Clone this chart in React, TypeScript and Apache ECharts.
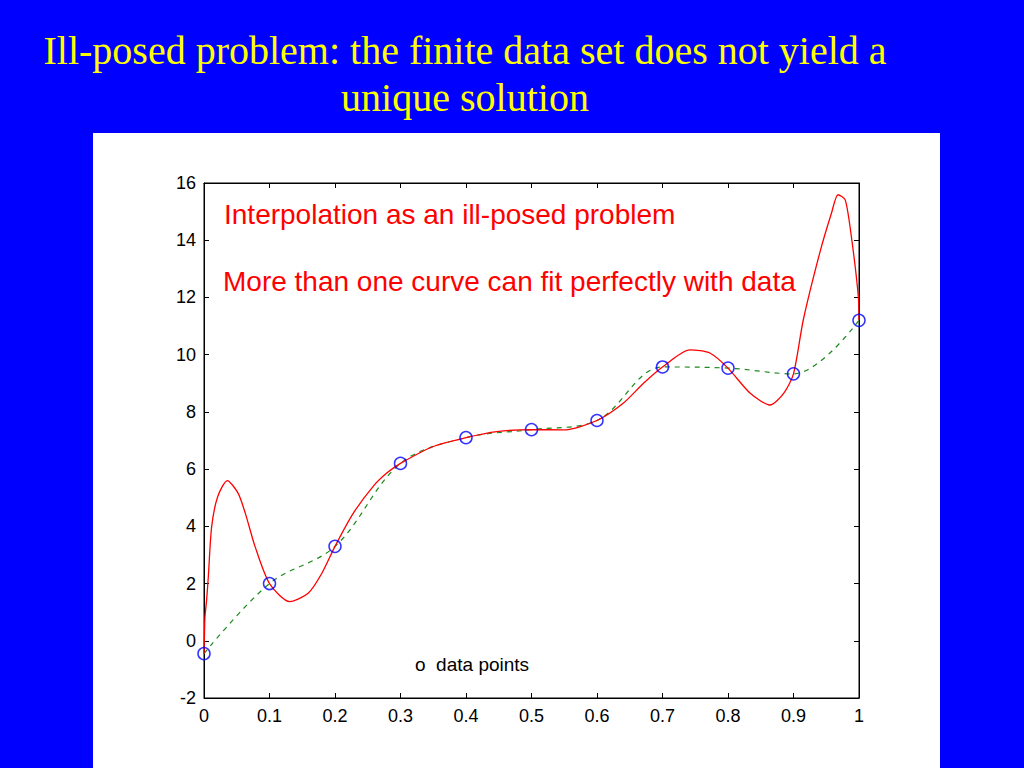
import React, { useEffect, useRef } from "react";
import * as echarts from "echarts";

const titleLines = [
  "Ill-posed problem: the finite data set does not yield a",
  "unique solution",
];
const annotation1 = "Interpolation as an ill-posed problem";
const annotation2 = "More than one curve can fit perfectly with data";
const legendText = "o  data points";

const dataX = [0, 0.1, 0.2, 0.3, 0.4, 0.5, 0.6, 0.7, 0.8, 0.9, 1.0];
const dataY = [-0.45, 2.0, 3.3, 6.2, 7.1, 7.38, 7.7, 9.57, 9.53, 9.33, 11.2];

const redX = [
  0, 0.0008, 0.0015, 0.004, 0.0066, 0.0117, 0.021, 0.0356, 0.052, 0.063, 0.078, 0.1,
  0.131, 0.159, 0.18, 0.2, 0.228, 0.258, 0.279, 0.3, 0.35, 0.4, 0.447, 0.5,
  0.549, 0.6, 0.64, 0.671, 0.7, 0.742, 0.773, 0.8, 0.834, 0.864, 0.885, 0.9,
  0.915, 0.94, 0.958, 0.968, 0.979, 0.989, 0.999, 1.0,
];
const redY = [
  -0.45, 0.3, 0.84, 1.43, 2.24, 3.99, 5.04, 5.6, 5.16, 4.46, 3.29, 2.0,
  1.37, 1.66, 2.36, 3.3, 4.46, 5.39, 5.86, 6.2, 6.79, 7.1, 7.31, 7.38,
  7.37, 7.7, 8.3, 9.0, 9.57, 10.17, 10.05, 9.53, 8.65, 8.24, 8.65, 9.33,
  11.22, 13.55, 14.95, 15.59, 15.41, 14.01, 12.03, 11.2,
];

const xTicks = { min: 0, max: 1, interval: 0.1 };
const yTicks = { min: -2, max: 16, interval: 2 };

export default function App() {
  const ref = useRef<HTMLDivElement>(null);
  useEffect(() => {
    if (!ref.current) return;
    const chart = echarts.init(ref.current, null, { renderer: "svg" });
    const axisFont = {
      color: "#000",
      fontSize: 18,
      fontFamily: "Liberation Sans, Arial, sans-serif",
    };
    const tick = { show: true, inside: true, length: 5, lineStyle: { color: "#000" } };
    const line = { show: true, onZero: false, lineStyle: { color: "#000" } };
    chart.setOption({
      animation: false,
      backgroundColor: "transparent",
      grid: {
        left: 204,
        top: 183,
        width: 655,
        height: 515,
        show: true,
        borderColor: "#000",
        borderWidth: 1,
        backgroundColor: "#fff",
      },
      xAxis: [
        {
          type: "value",
          ...xTicks,
          axisLine: line,
          axisTick: tick,
          splitLine: { show: false },
          axisLabel: {
            ...axisFont,
            margin: 9,
            formatter: (v: number) => String(Math.round(v * 10) / 10),
          },
        },
        {
          type: "value",
          position: "top",
          ...xTicks,
          axisLine: line,
          axisTick: tick,
          splitLine: { show: false },
          axisLabel: { show: false },
        },
      ],
      yAxis: [
        {
          type: "value",
          ...yTicks,
          axisLine: line,
          axisTick: tick,
          splitLine: { show: false },
          axisLabel: { ...axisFont, margin: 8 },
        },
        {
          type: "value",
          position: "right",
          ...yTicks,
          axisLine: line,
          axisTick: tick,
          splitLine: { show: false },
          axisLabel: { show: false },
        },
      ],
      series: [
        {
          type: "line",
          data: dataX.map((x, i) => [x, dataY[i]]),
          smooth: 0.35,
          showSymbol: false,
          lineStyle: { color: "#1a8a1a", width: 1.2, type: [5, 5] },
          z: 2,
        },
        {
          type: "line",
          data: redX.map((x, i) => [x, redY[i]]),
          smooth: 0.25,
          showSymbol: false,
          lineStyle: { color: "#ff0000", width: 1.3 },
          z: 3,
        },
        {
          type: "scatter",
          data: dataX.map((x, i) => [x, dataY[i]]),
          symbol: "circle",
          symbolSize: 12,
          itemStyle: { color: "transparent", borderColor: "#0000ff", borderWidth: 1.5 },
          z: 4,
        },
      ],
      graphic: [
        {
          type: "text",
          x: 465,
          y: 50,
          style: {
            text: titleLines[0],
            fill: "#ffff00",
            font: "40px 'Liberation Serif', 'Times New Roman', serif",
            textAlign: "center",
            textVerticalAlign: "middle",
          },
        },
        {
          type: "text",
          x: 465,
          y: 97,
          style: {
            text: titleLines[1],
            fill: "#ffff00",
            font: "40px 'Liberation Serif', 'Times New Roman', serif",
            textAlign: "center",
            textVerticalAlign: "middle",
          },
        },
        {
          type: "text",
          x: 224,
          y: 214,
          z: 10,
          style: {
            text: annotation1,
            fill: "#ff0000",
            font: "28px 'Liberation Sans', Arial, sans-serif",
            textVerticalAlign: "middle",
          },
        },
        {
          type: "text",
          x: 223,
          y: 281,
          z: 10,
          style: {
            text: annotation2,
            fill: "#ff0000",
            font: "28px 'Liberation Sans', Arial, sans-serif",
            textVerticalAlign: "middle",
          },
        },
        {
          type: "text",
          x: 415,
          y: 664,
          z: 10,
          style: {
            text: legendText,
            fill: "#000",
            font: "19px 'Liberation Sans', Arial, sans-serif",
            textVerticalAlign: "middle",
          },
        },
      ],
    });
    return () => chart.dispose();
  }, []);
  return (
    <div
      style={{
        position: "fixed",
        left: 0,
        top: 0,
        width: 1024,
        height: 768,
        background: "#0000ff",
      }}
    >
      <div
        style={{
          position: "absolute",
          left: 93,
          top: 133,
          width: 847,
          height: 635,
          background: "#fff",
        }}
      />
      <div
        ref={ref}
        style={{ position: "absolute", left: 0, top: 0, width: 1024, height: 768 }}
      />
    </div>
  );
}
